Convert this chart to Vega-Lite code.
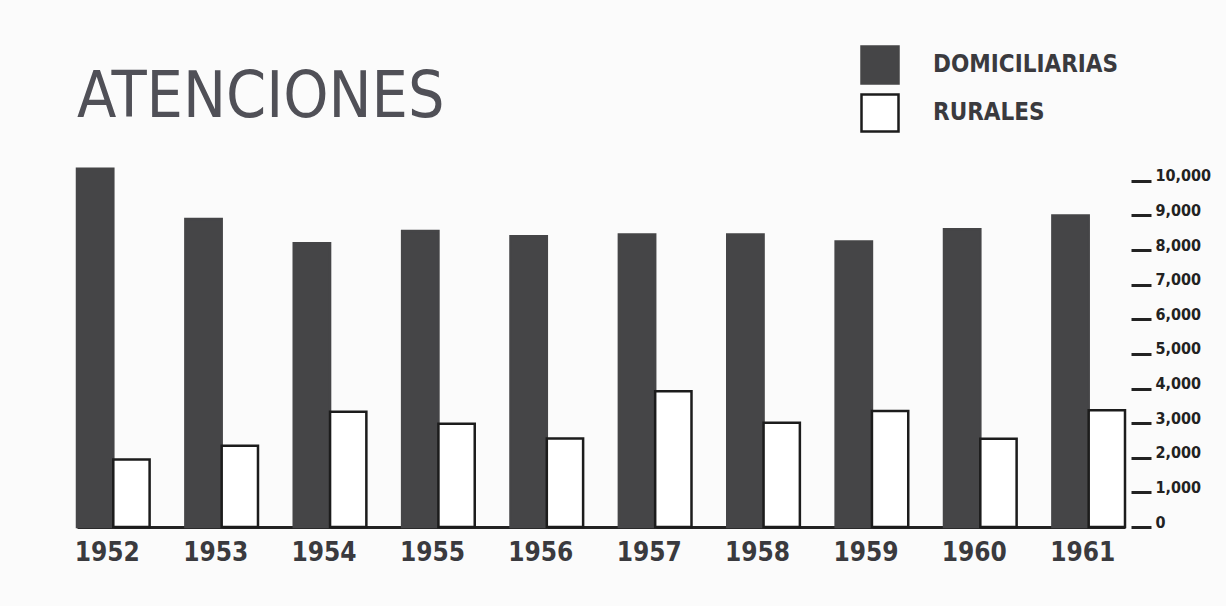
{
  "$schema": "https://vega.github.io/schema/vega-lite/v6.json",
  "width": 1048,
  "height": 360,
  "autosize": {"type": "none"},
  "padding": {"left": 77, "top": 167, "right": 101, "bottom": 79},
  "background": "#fbfbfb",
  "title": {
    "text": "ATENCIONES",
    "anchor": "start",
    "frame": "group",
    "orient": "top",
    "offset": -136,
    "baseline": "alphabetic",
    "font": "DejaVu Sans Condensed, Roboto",
    "fontWeight": "normal",
    "fontSize": 64,
    "color": "#505057"
  },
  "data": {
    "values": [
      {"anio": "1952", "tipo": "DOMICILIARIAS", "atenciones": 10350},
      {"anio": "1952", "tipo": "RURALES", "atenciones": 1950},
      {"anio": "1953", "tipo": "DOMICILIARIAS", "atenciones": 8900},
      {"anio": "1953", "tipo": "RURALES", "atenciones": 2350},
      {"anio": "1954", "tipo": "DOMICILIARIAS", "atenciones": 8200},
      {"anio": "1954", "tipo": "RURALES", "atenciones": 3330},
      {"anio": "1955", "tipo": "DOMICILIARIAS", "atenciones": 8550},
      {"anio": "1955", "tipo": "RURALES", "atenciones": 2980},
      {"anio": "1956", "tipo": "DOMICILIARIAS", "atenciones": 8400},
      {"anio": "1956", "tipo": "RURALES", "atenciones": 2560},
      {"anio": "1957", "tipo": "DOMICILIARIAS", "atenciones": 8450},
      {"anio": "1957", "tipo": "RURALES", "atenciones": 3920},
      {"anio": "1958", "tipo": "DOMICILIARIAS", "atenciones": 8450},
      {"anio": "1958", "tipo": "RURALES", "atenciones": 3010},
      {"anio": "1959", "tipo": "DOMICILIARIAS", "atenciones": 8250},
      {"anio": "1959", "tipo": "RURALES", "atenciones": 3350},
      {"anio": "1960", "tipo": "DOMICILIARIAS", "atenciones": 8600},
      {"anio": "1960", "tipo": "RURALES", "atenciones": 2550},
      {"anio": "1961", "tipo": "DOMICILIARIAS", "atenciones": 9000},
      {"anio": "1961", "tipo": "RURALES", "atenciones": 3370}
    ]
  },
  "mark": {"type": "bar", "strokeWidth": 2.5, "strokeJoin": "miter"},
  "encoding": {
    "x": {
      "field": "anio",
      "type": "ordinal",
      "scale": {"paddingInner": 0.33, "paddingOuter": 0},
      "axis": {
        "title": null,
        "orient": "bottom",
        "ticks": false,
        "tickSize": 0,
        "grid": false,
        "domain": true,
        "domainColor": "#222222",
        "domainWidth": 3,
        "labelAngle": 0,
        "labelPadding": 12,
        "labelOffset": -6,
        "labelFont": "DejaVu Sans Condensed, Roboto",
        "labelFontWeight": "bold",
        "labelFontSize": 26,
        "labelColor": "#3a3a3e"
      }
    },
    "xOffset": {
      "field": "tipo",
      "sort": ["DOMICILIARIAS", "RURALES"],
      "scale": {"paddingInner": 0, "paddingOuter": 0}
    },
    "y": {
      "field": "atenciones",
      "type": "quantitative",
      "scale": {"domain": [0, 10400], "nice": false},
      "axis": {
        "title": null,
        "orient": "right",
        "values": [0, 1000, 2000, 3000, 4000, 5000, 6000, 7000, 8000, 9000, 10000],
        "format": ",d",
        "domain": false,
        "grid": false,
        "ticks": true,
        "tickSize": 20,
        "tickWidth": 3,
        "tickColor": "#222222",
        "offset": 6,
        "labelPadding": 4,
        "labelBaseline": "alphabetic",
        "labelFont": "DejaVu Sans Condensed, Roboto",
        "labelFontWeight": "bold",
        "labelFontSize": 16,
        "labelColor": "#222222"
      }
    },
    "fill": {
      "field": "tipo",
      "type": "nominal",
      "scale": {"domain": ["DOMICILIARIAS", "RURALES"], "range": ["#454547", "#ffffff"]},
      "legend": {
        "orient": "none",
        "legendX": 783,
        "legendY": -122,
        "title": null,
        "padding": 0,
        "symbolType": "square",
        "symbolSize": 1369,
        "symbolStrokeWidth": 2.5,
        "labelFont": "DejaVu Sans Condensed, Roboto",
        "labelFontWeight": "bold",
        "labelFontSize": 24,
        "labelColor": "#3a3a3e",
        "labelOffset": 33,
        "labelLimit": 400,
        "rowPadding": 0
      }
    },
    "stroke": {
      "field": "tipo",
      "type": "nominal",
      "scale": {"domain": ["DOMICILIARIAS", "RURALES"], "range": ["#454547", "#1c1c1c"]}
    }
  },
  "config": {"view": {"stroke": null}}
}
